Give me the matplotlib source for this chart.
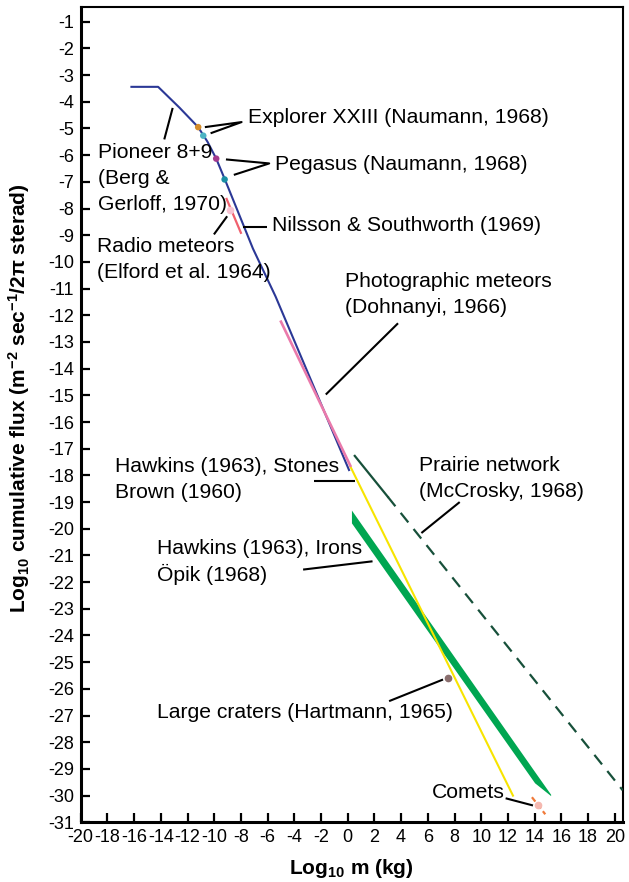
"""Cumulative meteoroid flux vs. mass, compiled from several surveys."""
import matplotlib
matplotlib.use("Agg")
import matplotlib.pyplot as plt

plt.rcParams.update({
    "font.family": ["Liberation Sans", "DejaVu Sans"],
    "axes.unicode_minus": False,
    "mathtext.fontset": "custom",
    "mathtext.rm": "Liberation Sans:bold",
    "mathtext.bf": "Liberation Sans:bold",
    "mathtext.default": "rm",
})

# log10 mass (kg) / log10 cumulative flux
flux_x = [-16.2, -14.2, -12.6, -11.2, -10.5, -9.85, -9.2, -7.1, -5.4, 0.1]
flux_y = [-3.44, -3.44, -4.22, -4.95, -5.5, -6.13, -6.91, -9.5, -11.3, -17.8]

explorer_x = [-11.2, -10.82]
explorer_y = [-4.95, -5.27]
pegasus_x = [-9.85, -9.22]
pegasus_y = [-6.13, -6.91]

radio_x, radio_y = -8.8, -8.05
nilsson_x = [-9.07, -8.0]
nilsson_y = [-7.64, -8.91]

photo_x = [-5.0, 0.2]
photo_y = [-12.24, -17.64]

stones_x = [0.21, 12.38]
stones_y = [-17.68, -30.0]

prairie_x = [0.53, 3.0, 20.6]
prairie_y = [-17.27, -18.8, -29.8]

irons_x = [0.28, 14.0, 15.2]
irons_top = [-19.3, -29.1, -29.95]
irons_bot = [-19.78, -29.52, -30.0]

crater_x, crater_y = 7.52, -25.59

comets_x = [13.8, 14.8]
comets_y = [-30.06, -30.7]
comet_dot_x, comet_dot_y = 14.25, -30.37

x_ticks = list(range(-20, 21, 2))
y_ticks = list(range(-31, 0))

fig = plt.figure(figsize=(6.29, 8.82), dpi=100)
ax = fig.add_axes([0.1283, 0.0677, 0.8617, 0.9240])

ax.plot(flux_x, flux_y, color="#2b3896", lw=1.5, zorder=3)
ax.plot(photo_x, photo_y, color="#ea7aab", lw=1.9, zorder=4)
ax.plot(nilsson_x, nilsson_y, color="#f0606e", lw=1.6, zorder=4)
ax.plot(radio_x, radio_y, "o", color="#f7c3d2", ms=4.5, zorder=5)
ax.scatter(explorer_x, explorer_y, c=["#d48c2a", "#4cb3c4"], s=22, zorder=5, lw=0)
ax.scatter(pegasus_x, pegasus_y, c=["#a43a8e", "#1a8fa5"], s=22, zorder=5, lw=0)

ax.plot(stones_x, stones_y, color="#f7e400", lw=1.5, zorder=3)
ax.fill_between(irons_x, irons_top, irons_bot, color="#00a651", lw=0, zorder=2)
ax.plot(prairie_x[:2], prairie_y[:2], color="#17503a", lw=1.6, zorder=3)
ax.plot(prairie_x[1:], prairie_y[1:], color="#17503a", lw=1.6, zorder=3,
        dashes=(5.5, 3.8))
ax.plot(crater_x, crater_y, "o", color="#8a6e6e", ms=4.5, zorder=5)
ax.plot(comets_x, comets_y, color="#f07a3a", lw=1.6, dashes=(2.5, 1.5), zorder=4)
ax.plot(comet_dot_x, comet_dot_y, "o", color="#f5b8b0", ms=4.5, zorder=5)

# labels, one line at a time (x, y of first line, lines)
FS = 15.2
LINE = 18.7  # points between lines


def label(x, y, lines):
    for i, s in enumerate(lines):
        ax.annotate(s, (x, y), xytext=(0, -i * LINE), textcoords="offset points",
                    ha="left", va="center", fontsize=FS, zorder=6)


label(-7.48, -4.6, ["Explorer XXIII (Naumann, 1968)"])
label(-5.46, -6.34, ["Pegasus (Naumann, 1968)"])
label(-18.73, -5.9, ["Pioneer 8+9", "(Berg &", "Gerloff, 1970)"])
label(-18.8, -9.44, ["Radio meteors", "(Elford et al. 1964)"])
label(-5.66, -8.64, ["Nilsson & Southworth (1969)"])
label(-0.22, -10.75, ["Photographic meteors", "(Dohnanyi, 1966)"])
label(-17.43, -17.68, ["Hawkins (1963), Stones", "Brown (1960)"])
label(5.35, -17.64, ["Prairie network", "(McCrosky, 1968)"])
label(-14.27, -20.75, ["Hawkins (1963), Irons", "Öpik (1968)"])
label(-14.27, -26.89, ["Large craters (Hartmann, 1965)"])
label(6.27, -29.87, ["Comets"])

leaders = [
    [(-10.7, -4.95), (-7.95, -4.76), (-10.27, -5.18)],
    [(-9.12, -6.16), (-5.88, -6.31), (-8.53, -6.74)],
    [(-13.11, -4.23), (-13.74, -5.41)],
    [(-9.03, -8.29), (-10.02, -8.97)],
    [(-7.87, -8.7), (-6.08, -8.7)],
    [(3.77, -12.3), (-1.64, -14.97)],
    [(-2.51, -18.2), (0.58, -18.2)],
    [(8.39, -19.0), (5.52, -20.16)],
    [(-3.34, -21.53), (1.86, -21.22)],
    [(3.1, -26.46), (7.14, -25.65)],
    [(11.83, -30.1), (13.88, -30.37)],
]
for seg in leaders:
    xs, ys = zip(*seg)
    ax.plot(xs, ys, color="black", lw=1.5, zorder=6, solid_capstyle="butt")

ax.set_xlim(-20, 20.6)
ax.set_ylim(-31, -0.46)
ax.set_xticks(x_ticks)
ax.set_yticks(y_ticks)
ax.tick_params(direction="in", length=6.5, width=1.6, labelsize=13, pad=5)
for side in ("left", "bottom"):
    ax.spines[side].set_linewidth(2.2)
for side in ("top", "right"):
    ax.spines[side].set_linewidth(1.5)

ax.set_xlabel(r"Log$_{10}$ m (kg)", fontsize=15, fontweight="bold", labelpad=8)
ax.set_ylabel(r"Log$_{10}$ cumulative flux (m$^{-2}$ sec$^{-1}$/2π sterad)",
              fontsize=15, fontweight="bold", labelpad=4)
ax.yaxis.set_label_coords(-0.09, 0.52)

fig.savefig("out.png", dpi=100)
